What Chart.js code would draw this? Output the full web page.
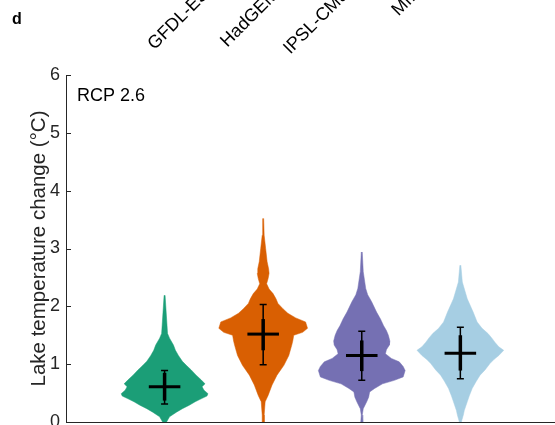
<!DOCTYPE html>
<html>
<head>
<meta charset="utf-8">
<script src="https://cdn.jsdelivr.net/npm/chart.js@4.4.1/dist/chart.umd.min.js"></script>
<style>
  html, body { margin: 0; padding: 0; background: #fff; overflow: hidden; }
  canvas { display: block; }
</style>
</head>
<body>
<canvas id="chart" width="555" height="425"></canvas>
<script>
// model names (top labels)
const models = ["GFDL-ESM2M", "HadGEM2-ES", "IPSL-CM5A-LR", "MIROC5"];
const yTicks = [0, 1, 2, 3, 4, 5, 6];

// violin outlines: temperature levels and half widths (x-axis units)
const gfdlLevels = [2.19, 1.53, 1.45, 1.33, 1.24, 1.15, 1.05, 0.98, 0.90, 0.81, 0.73, 0.66, 0.61, 0.55, 0.49, 0.45, 0.40, 0.35, 0.29, 0.23, 0.17, 0.09, 0.0];
const gfdlWidths = [0.005, 0.03, 0.05, 0.09, 0.11, 0.14, 0.18, 0.22, 0.27, 0.32, 0.37, 0.41, 0.38, 0.40, 0.44, 0.43, 0.37, 0.31, 0.25, 0.18, 0.12, 0.05, 0.02];

const hadLevels = [3.52, 3.23, 3.00, 2.77, 2.65, 2.57, 2.48, 2.39, 2.30, 2.22, 2.13, 2.05, 1.96, 1.88, 1.80, 1.73, 1.62, 1.55, 1.50, 1.40, 1.33, 1.15, 0.98, 0.81, 0.64, 0.46, 0.35, 0.12, 0.0];
const hadWidths = [0.005, 0.01, 0.025, 0.04, 0.055, 0.06, 0.05, 0.035, 0.06, 0.10, 0.13, 0.15, 0.20, 0.25, 0.33, 0.43, 0.45, 0.40, 0.31, 0.30, 0.29, 0.26, 0.21, 0.14, 0.09, 0.05, 0.02, 0.01, 0.01];

const ipslLevels = [2.94, 2.60, 2.31, 2.20, 2.08, 1.90, 1.78, 1.67, 1.58, 1.50, 1.40, 1.33, 1.25, 1.18, 1.10, 1.04, 0.96, 0.89, 0.78, 0.72, 0.66, 0.58, 0.52, 0.43, 0.35, 0.23, 0.12, 0.0];
const ipslWidths = [0.005, 0.015, 0.04, 0.06, 0.10, 0.15, 0.19, 0.22, 0.25, 0.27, 0.285, 0.28, 0.25, 0.24, 0.30, 0.38, 0.42, 0.44, 0.42, 0.33, 0.21, 0.13, 0.08, 0.07, 0.05, 0.015, 0.005, 0.01];

const mirocLevels = [2.71, 2.42, 2.13, 1.90, 1.73, 1.62, 1.53, 1.45, 1.38, 1.30, 1.24, 1.15, 1.08, 1.01, 0.90, 0.81, 0.70, 0.58, 0.45, 0.35, 0.20, 0.12, 0.0];
const mirocWidths = [0.005, 0.02, 0.07, 0.13, 0.17, 0.22, 0.28, 0.32, 0.35, 0.39, 0.44, 0.39, 0.34, 0.30, 0.25, 0.20, 0.16, 0.12, 0.09, 0.07, 0.04, 0.03, 0.01];

// summary stats
const meanVals = [0.61, 1.52, 1.15, 1.19];
const whiskLow = [0.31, 0.99, 0.72, 0.75];
const whiskHigh = [0.89, 2.03, 1.57, 1.64];
const boxLow = [0.37, 1.24, 0.88, 0.89];
const boxHigh = [0.85, 1.78, 1.41, 1.50];

const colors = ["#1b9e77", "#d95f02", "#7570b3", "#a6cee3"];
const profiles = [
    [gfdlLevels, gfdlWidths],
    [hadLevels, hadWidths],
    [ipslLevels, ipslWidths],
    [mirocLevels, mirocWidths]
];

function violin(center, levels, widths) {
    var pts = [];
    for (var i = 0; i < levels.length; i++) pts.push({ x: center + widths[i], y: levels[i] });
    for (var j = levels.length - 1; j >= 0; j--) pts.push({ x: center - widths[j], y: levels[j] });
    return pts;
}

var datasets = profiles.map(function (p, i) {
    return {
        data: violin(i + 1, p[0], p[1]),
        backgroundColor: colors[i],
        borderColor: colors[i],
        borderWidth: 0.5,
        pointRadius: 0,
        fill: "shape",
        tension: 0
    };
});

// mean cross + error bars
const crossPlugin = {
    id: "cross",
    afterDatasetsDraw: function (chart) {
        var ctx = chart.ctx, xs = chart.scales.x, ys = chart.scales.y;
        ctx.save();
        ctx.strokeStyle = "#000";
        ctx.lineCap = "butt";
        for (var i = 0; i < models.length; i++) {
            var cx = xs.getPixelForValue(i + 1);
            var half = xs.getPixelForValue(1.16) - xs.getPixelForValue(1);
            // thin whisker
            ctx.lineWidth = 1.5;
            ctx.beginPath();
            ctx.moveTo(cx, ys.getPixelForValue(whiskLow[i]));
            ctx.lineTo(cx, ys.getPixelForValue(whiskHigh[i]));
            [whiskLow[i], whiskHigh[i]].forEach(function (v) {
                var py = ys.getPixelForValue(v);
                ctx.moveTo(cx - 3.5, py);
                ctx.lineTo(cx + 3.5, py);
            });
            ctx.stroke();
            // thick part
            ctx.lineWidth = 3.5;
            ctx.beginPath();
            ctx.moveTo(cx, ys.getPixelForValue(boxLow[i]));
            ctx.lineTo(cx, ys.getPixelForValue(boxHigh[i]));
            ctx.stroke();
            // mean
            ctx.lineWidth = 3;
            ctx.beginPath();
            var my = ys.getPixelForValue(meanVals[i]);
            ctx.moveTo(cx - half, my);
            ctx.lineTo(cx + half, my);
            ctx.stroke();
        }
        ctx.restore();
    },
    afterDraw: function (chart) {
        var ctx = chart.ctx, ys = chart.scales.y, area = chart.chartArea;
        ctx.save();
        // inward y ticks
        ctx.strokeStyle = "#262626";
        ctx.lineWidth = 1;
        ctx.beginPath();
        yTicks.forEach(function (t) {
            var py = Math.round(ys.getPixelForValue(t)) + 0.5;
            ctx.moveTo(area.left, py);
            ctx.lineTo(area.left + 5, py);
        });
        ctx.stroke();
        // panel letter and scenario
        ctx.fillStyle = "#000";
        ctx.font = "bold 16px 'Liberation Sans', Arial, sans-serif";
        ctx.fillText("d", 12, 24);
        ctx.font = "18px 'Liberation Sans', Arial, sans-serif";
        ctx.fillText("RCP 2.6", area.left + 11, 101);
        // rotated model labels (end anchored)
        ctx.textAlign = "right";
        ctx.textBaseline = "alphabetic";
        models.forEach(function (m, i) {
            ctx.save();
            ctx.translate(238 + 70 * i, -33);
            ctx.rotate(-Math.PI / 4);
            ctx.fillText(m, 0, 0);
            ctx.restore();
        });
        ctx.restore();
    }
};

new Chart(document.getElementById("chart"), {
    type: "line",
    data: { datasets: datasets },
    options: {
        responsive: false,
        animation: false,
        devicePixelRatio: 1,
        layout: { padding: { top: 75, left: 0, right: 0, bottom: 0 } },
        plugins: { legend: { display: false }, tooltip: { enabled: false } },
        scales: {
            x: {
                type: "linear",
                min: 0,
                max: 4.96,
                grid: { display: false },
                border: { display: true, color: "#262626", width: 1 },
                ticks: { display: false },
                afterFit: function (s) { s.height = 3; s.paddingLeft = 0; s.paddingRight = 0; }
            },
            y: {
                min: 0,
                max: 6,
                grid: { display: false, drawTicks: false },
                border: { display: true, color: "#262626", width: 1 },
                ticks: {
                    stepSize: 1,
                    color: "#262626",
                    padding: 6,
                    font: { size: 18, family: "'Liberation Sans', Arial, sans-serif" }
                },
                title: {
                    display: true,
                    text: "Lake temperature change (\u00B0C)",
                    color: "#262626",
                    font: { size: 20.5, family: "'Liberation Sans', Arial, sans-serif" },
                    padding: { top: 27, bottom: 0 }
                },
                afterFit: function (s) { s.width = 66; s.paddingTop = 0; s.paddingBottom = 0; }
            }
        }
    },
    plugins: [crossPlugin]
});
</script>
</body>
</html>
